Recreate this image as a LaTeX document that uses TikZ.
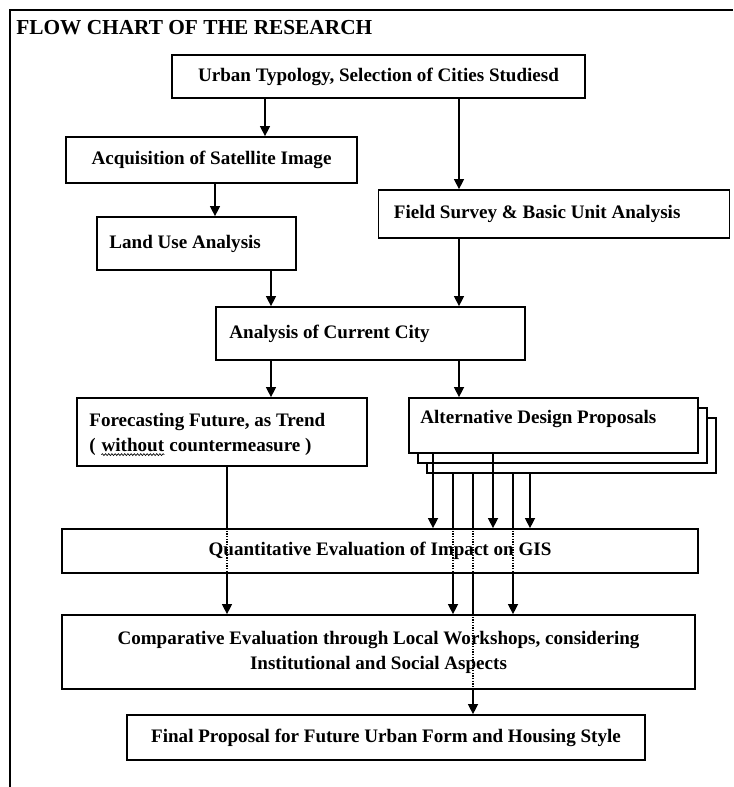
\documentclass[tikz,border=0pt]{standalone}
\usepackage{fontspec}
\setmainfont{Liberation Serif}
\usetikzlibrary{arrows.meta,decorations.pathmorphing}
\tikzset{
	txt/.style={inner sep=0pt, font=\fontsize{14.3}{18.75}\selectfont\bfseries},
	stepbox/.style={txt, draw, line width=1.3pt, fill=white, align=center},
	flow/.style={line width=1pt, -{Triangle[length=7.5pt,width=7.5pt]}},
	thru/.style={line width=1pt, densely dotted},
	squiggle/.style={decorate, decoration={snake, amplitude=0.7pt, segment length=2.4pt}, line width=0.5pt},
}

\begin{document}
\begin{tikzpicture}[x=0.75pt, y=-0.75pt]
		%%%%% START %%%%%
		
		\useasboundingbox (0,0) rectangle (733,787);
		\draw[line width=1.6pt] (10,787) -- (10,10) -- (733,10);
		
		\node[txt, anchor=west, font=\fontsize{16}{19}\selectfont\bfseries] (title) at (16,28) {FLOW CHART OF THE RESEARCH};
		
		% lanes of the connectors
		\coordinate (xa) at (265,0);
		\coordinate (xb) at (215,0);
		\coordinate (xc) at (271,0);
		\coordinate (xr) at (459,0);
		\coordinate (xf) at (227,0);
		\coordinate (x1) at (433,0);
		\coordinate (x2) at (453,0);
		\coordinate (x3) at (473,0);
		\coordinate (x4) at (493,0);
		\coordinate (x5) at (513,0);
		\coordinate (x6) at (530,0);
		
		\node[stepbox, minimum width=309.75pt, minimum height=32.25pt] (urban) at (378.5,76.5) {Urban Typology, Selection of Cities Studiesd};
		
		\node[stepbox, minimum width=218.25pt, minimum height=34.5pt] (acq) at (211.5,160) {Acquisition of Satellite Image};
		\node[stepbox, minimum width=149.25pt, minimum height=39.75pt] (land) at (196.5,243.5) {};
		\node[txt, anchor=west] (landtxt) at ([xshift=9.75pt]land.west) {Land Use Analysis};
		\node[stepbox, minimum width=263.25pt, minimum height=36pt] (field) at (554,214) {};
		\node[txt, anchor=west] (fieldtxt) at ([xshift=12pt]field.west) {Field Survey \& Basic Unit Analysis};
		
		\node[stepbox, minimum width=231.75pt, minimum height=39.75pt] (anal) at (370.5,333.5) {};
		\node[txt, anchor=west] (analtxt) at ([xshift=10.5pt]anal.west) {Analysis of Current City};
		
		\node[stepbox, minimum width=217.5pt, minimum height=51pt] (fore) at (222,432) {};
		\node[txt, anchor=base west] (foreone) at ([xshift=9.75pt,yshift=4pt]fore.west) {Forecasting Future, as Trend};
		\node[txt, anchor=base west] (forepar) at ([yshift=-18.75pt]foreone.base west) {(};
		\node[txt, anchor=base west] (forewo) at ([xshift=4pt]forepar.base east) {without};
		\node[txt, anchor=base west] (forecm) at ([xshift=3.6pt]forewo.base east) {countermeasure )};
		\draw[squiggle] ([yshift=-2.2pt]forewo.base west) -- ([yshift=-2.2pt]forewo.base east);
		
		\node[stepbox, minimum width=216.75pt, minimum height=41.25pt] (alt3) at (571.5,445.5) {};
		\node[stepbox, minimum width=216.75pt, minimum height=41.25pt] (alt2) at (562.5,435.5) {};
		\node[stepbox, minimum width=216.75pt, minimum height=41.25pt] (alt) at (553.5,425.5) {};
		\node[txt, anchor=west] (alttxt) at ([xshift=9pt,yshift=5pt]alt.west) {Alternative Design Proposals};
		
		\node[stepbox, minimum width=477pt, minimum height=33pt] (quant) at (380,551) {Quantitative Evaluation of Impact on GIS};
		\node[stepbox, minimum width=474.75pt, minimum height=55.5pt] (comp) at (378.5,652) {Comparative Evaluation through Local Workshops, considering\\Institutional and Social Aspects};
		\node[stepbox, minimum width=388.5pt, minimum height=33.75pt] (final) at (386,737.5) {Final Proposal for Future Urban Form and Housing Style};
		
		\draw[flow] (urban.south -| xa) -- (acq.north -| xa);
		\draw[flow] (urban.south -| xr) -- (field.north -| xr);
		\draw[flow] (acq.south -| xb) -- (land.north -| xb);
		\draw[flow] (land.south -| xc) -- (anal.north -| xc);
		\draw[flow] (field.south -| xr) -- (anal.north -| xr);
		\draw[flow] (anal.south -| xc) -- (fore.north -| xc);
		\draw[flow] (anal.south -| xr) -- (alt.north -| xr);
		
		\draw[line width=1pt] (fore.south -| xf) -- (quant.north -| xf);
		\draw[thru] (quant.north -| xf) -- (quant.south -| xf);
		\draw[flow] (quant.south -| xf) -- (comp.north -| xf);
		
		\draw[flow] (alt.south -| x1) -- (quant.north -| x1);
		\draw[flow] (alt.south -| x4) -- (quant.north -| x4);
		\draw[flow] (alt3.south -| x6) -- (quant.north -| x6);
		
		\draw[line width=1pt] (alt3.south -| x2) -- (quant.north -| x2);
		\draw[thru] (quant.north -| x2) -- (quant.south -| x2);
		\draw[flow] (quant.south -| x2) -- (comp.north -| x2);
		\draw[line width=1pt] (alt3.south -| x5) -- (quant.north -| x5);
		\draw[thru] (quant.north -| x5) -- (quant.south -| x5);
		\draw[flow] (quant.south -| x5) -- (comp.north -| x5);
		
		\draw[line width=1pt] (alt3.south -| x3) -- (quant.north -| x3);
		\draw[thru] (quant.north -| x3) -- (quant.south -| x3);
		\draw[line width=1pt] (quant.south -| x3) -- (comp.north -| x3);
		\draw[thru] (comp.north -| x3) -- (comp.south -| x3);
		\draw[flow] (comp.south -| x3) -- (final.north -| x3);
		
		%%%%% END %%%%%
\end{tikzpicture}
\end{document}
